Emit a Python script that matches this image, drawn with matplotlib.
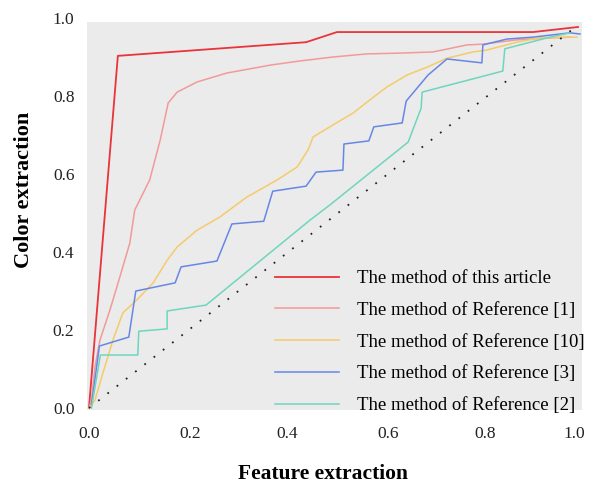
import matplotlib
matplotlib.use('Agg')
import matplotlib.pyplot as plt
from matplotlib.patches import Rectangle

plt.rcParams['font.family'] = ['Liberation Serif', 'DejaVu Serif']

# Data
this_x = [0.0, 0.058, 0.436, 0.498, 0.892, 0.982]
this_y = [0.0, 0.903, 0.938, 0.964, 0.964, 0.977]

ref1_x = [0.0, 0.005, 0.012, 0.022, 0.042, 0.062, 0.082, 0.092, 0.122, 0.143, 0.159,
          0.177, 0.217, 0.277, 0.363, 0.424, 0.49, 0.558, 0.624, 0.691, 0.759, 0.791,
          0.859, 0.926, 0.966]
ref1_y = [0.0, 0.02, 0.105, 0.174, 0.251, 0.336, 0.423, 0.508, 0.585, 0.687, 0.782,
          0.81, 0.836, 0.859, 0.879, 0.89, 0.9, 0.908, 0.91, 0.913, 0.931, 0.933,
          0.944, 0.949, 0.951]

ref10_x = [0.0, 0.012, 0.028, 0.048, 0.068, 0.096, 0.129, 0.157, 0.177, 0.217, 0.263,
           0.317, 0.378, 0.418, 0.44, 0.45, 0.49, 0.53, 0.564, 0.598, 0.639, 0.679,
           0.719, 0.771, 0.799, 0.859, 0.906, 0.98]
ref10_y = [0.0, 0.02, 0.09, 0.174, 0.244, 0.277, 0.321, 0.379, 0.413, 0.456, 0.49,
           0.541, 0.585, 0.618, 0.662, 0.695, 0.726, 0.756, 0.79, 0.823, 0.854, 0.874,
           0.897, 0.913, 0.918, 0.938, 0.949, 0.951]

ref3_x = [0.005, 0.021, 0.08, 0.094, 0.173, 0.185, 0.257, 0.287, 0.351, 0.369, 0.436,
          0.456, 0.51, 0.512, 0.562, 0.572, 0.629, 0.637, 0.681, 0.719, 0.789, 0.791,
          0.839, 0.892, 0.966, 0.986]
ref3_y = [0.008, 0.159, 0.182, 0.3, 0.321, 0.362, 0.377, 0.472, 0.479, 0.556, 0.569,
          0.605, 0.61, 0.677, 0.685, 0.721, 0.731, 0.787, 0.854, 0.895, 0.885, 0.931,
          0.946, 0.951, 0.962, 0.959]

ref2_x = [0.005, 0.023, 0.098, 0.1, 0.157, 0.157, 0.235, 0.444, 0.484, 0.641, 0.667,
          0.669, 0.831, 0.835, 0.926, 0.966]
ref2_y = [0.0, 0.136, 0.136, 0.197, 0.203, 0.249, 0.264, 0.482, 0.521, 0.682, 0.769,
          0.81, 0.864, 0.921, 0.951, 0.962]

diag_x = [0.0, 0.968]
diag_y = [0.0, 0.968]

labels = ['The method of this article', 'The method of Reference [1]',
          'The method of Reference [10]', 'The method of Reference [3]',
          'The method of Reference [2]']
colors = ['#e8343a', '#f29a9a', '#f5cb6a', '#6687e6', '#6dd6bd']

tick_vals = ['0.0', '0.2', '0.4', '0.6', '0.8', '1.0']
xtick_pos = [0.0, 0.203, 0.398, 0.6, 0.795, 0.975]
ytick_pos = [0.0, 0.2, 0.4, 0.6, 0.8, 1.0]

fig = plt.figure(figsize=(5.99, 4.83), dpi=100)
ax = fig.add_axes([0.1452, 0.1511, 0.8347, 0.8116])
ax.set_facecolor('none')
ax.set_xlim(-0.004, 1.0)
ax.set_ylim(-0.005, 1.0)

# gray plotting area (stops a little short of 1.0)
ax.add_patch(Rectangle((-0.004, -0.005), 0.994, 0.995, color='#ebebeb', zorder=0, lw=0))

series = [(this_x, this_y), (ref1_x, ref1_y), (ref10_x, ref10_y),
          (ref3_x, ref3_y), (ref2_x, ref2_y)]
lws = [1.3, 1.1, 1.1, 1.1, 1.1]
for (xs, ys), lab, c, lw in zip(series, labels, colors, lws):
    ax.plot(xs, ys, color=c, lw=lw, label=lab)

ax.plot(diag_x, diag_y, color='#222222', lw=1.3, linestyle=(0, (1, 5.5)))

for s in ax.spines.values():
    s.set_visible(False)
ax.set_xticks(xtick_pos)
ax.set_xticklabels(tick_vals)
ax.set_yticks(ytick_pos)
ax.set_yticklabels(tick_vals)
ax.tick_params(length=0, labelsize=12.5, colors='#222222')
ax.tick_params(axis='x', pad=11.5)
ax.tick_params(axis='y', pad=9)

ax.set_xlabel('Feature extraction', fontsize=15.5, fontweight='bold')
ax.set_ylabel('Color extraction', fontsize=16, fontweight='bold')
ax.xaxis.set_label_coords(0.472, -0.138)
ax.yaxis.set_label_coords(-0.106, 0.561)

ax.legend(loc='upper left', bbox_to_anchor=(0.376, 0.357), frameon=False,
          fontsize=13.5, handlelength=3.4, handletextpad=1.0, labelspacing=0.78,
          borderpad=0, borderaxespad=0)

fig.savefig('out.png', dpi=100)
